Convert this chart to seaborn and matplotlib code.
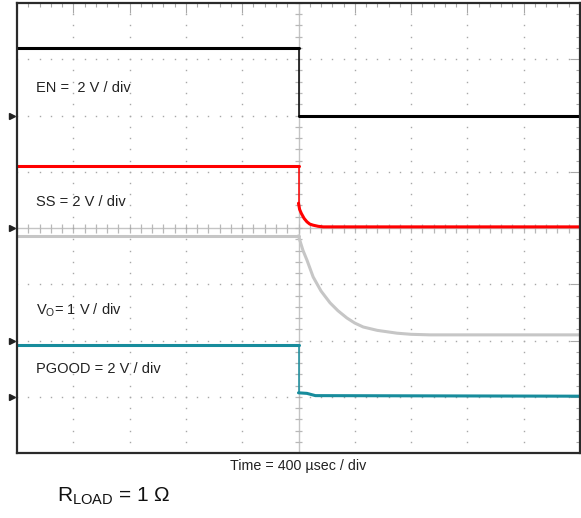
import numpy as np
import seaborn as sns
import matplotlib.pyplot as plt

# Scope capture in divisions (10 x 8 grid).
# Each trace: flat part before the edge, then the part after the edge.
en_pre_t = [0.0, 5.0]
en_pre_v = [7.2, 7.2]
en_post_t = [5.0, 10.0]
en_post_v = [6.0, 6.0]

ss_pre_t = [0.0, 5.0]
ss_pre_v = [5.10, 5.10]
ss_post_t = [5.0, 5.02, 5.05, 5.1, 5.15, 5.2, 5.26, 5.35, 5.44, 5.8, 10.0]
ss_post_v = [4.44, 4.33, 4.26, 4.17, 4.11, 4.07, 4.05, 4.03, 4.02, 4.02, 4.02]

vo_pre_t = [0.0, 5.0]
vo_pre_v = [3.86, 3.86]
vo_post_t = [5.0, 5.03, 5.08, 5.15, 5.26, 5.4, 5.56, 5.7, 5.86, 6.0, 6.15,
             6.4, 6.75, 7.0, 7.34, 10.0]
vo_post_v = [3.86, 3.76, 3.60, 3.43, 3.13, 2.88, 2.67, 2.53, 2.40, 2.31, 2.24,
             2.18, 2.13, 2.11, 2.10, 2.10]

pg_pre_t = [0.0, 5.0]
pg_pre_v = [1.92, 1.92]
pg_post_t = [5.0, 5.15, 5.3, 10.0]
pg_post_v = [1.07, 1.06, 1.02, 1.01]

# ground reference markers (EN, SS, Vo, PGOOD)
ground_levels = [6.0, 4.0, 2.0, 1.0]

labels = ["EN =  2 V / div", "SS = 2 V / div",
          r"V$_\mathregular{O}$= 1 V / div", "PGOOD = 2 V / div"]
label_y = [6.49, 4.47, 2.54, 1.49]

sns.set_style("white")
plt.rcParams['font.family'] = ['Liberation Sans', 'DejaVu Sans']

fig = plt.figure(figsize=(5.81, 5.18), dpi=100)
ax = fig.add_axes([17 / 581, 65 / 518, 563 / 581, 450 / 518])
ax.set_xlim(0, 10)
ax.set_ylim(0, 8)

grid_c = '#a8a8a8'
# dotted graticule
for gx in [1, 2, 3, 4, 6, 7, 8, 9]:
    yy = np.arange(0, 8.01, 0.2)
    ax.plot([gx] * len(yy), yy, ls='none', marker='s', ms=1.0, color=grid_c, mew=0)
for gy in [1, 2, 3, 5, 6, 7]:
    xx = np.arange(0, 10.01, 0.2)
    ax.plot(xx, [gy] * len(xx), ls='none', marker='s', ms=1.0, color=grid_c, mew=0)

# centre cross with ticks
ax.axhline(4, color='#c4c4c4', lw=1.0, zorder=1)
ax.axvline(5, color='#c4c4c4', lw=1.0, zorder=1)
ax.vlines(np.arange(0, 10.01, 0.2), 3.92, 4.08, color='#b8b8b8', lw=0.9, zorder=1)
ax.hlines(np.arange(0, 8.01, 0.2), 4.93, 5.07, color='#b8b8b8', lw=0.9, zorder=1)

# edge ticks
ax.set_xticks(np.arange(0, 10.01, 1))
ax.set_yticks(np.arange(0, 8.01, 1))
ax.set_xticks(np.arange(0, 10.01, 0.2), minor=True)
ax.set_yticks(np.arange(0, 8.01, 0.2), minor=True)
ax.tick_params(which='both', direction='in', top=True, right=True,
               labelbottom=False, labelleft=False, color=grid_c, width=0.8)
ax.tick_params(which='major', length=7)
ax.tick_params(which='minor', length=3)
for s in ax.spines.values():
    s.set_color('#2a2a2a')
    s.set_linewidth(1.6)

traces = [
    (en_pre_t, en_pre_v, en_post_t, en_post_v, '#000000'),
    (ss_pre_t, ss_pre_v, ss_post_t, ss_post_v, '#ff0000'),
    (vo_pre_t, vo_pre_v, vo_post_t, vo_post_v, '#c6c6c6'),
    (pg_pre_t, pg_pre_v, pg_post_t, pg_post_v, '#178c9c'),
]
for pre_t, pre_v, post_t, post_v, c in traces:
    sns.lineplot(x=pre_t, y=pre_v, color=c, lw=2.2, ax=ax, sort=False, estimator=None)
    sns.lineplot(x=[pre_t[-1], post_t[0]], y=[pre_v[-1], post_v[0]], color=c,
                 lw=1.1, ax=ax, sort=False, estimator=None)
    sns.lineplot(x=post_t, y=post_v, color=c, lw=2.2, ax=ax, sort=False, estimator=None)

for g in ground_levels:
    ax.plot(-0.09, g, marker='>', ms=4, color='#222222', clip_on=False)

for txt, y in zip(labels, label_y):
    ax.text(0.34, y, txt, fontsize=10.5, va='center', ha='left', color='#222222')

ax.set_xlabel('')
ax.set_ylabel('')
fig.text(298 / 581, 1 - 466 / 518, 'Time = 400 µsec / div', fontsize=10.3,
         ha='center', va='center', color='#222222')
fig.text(57 / 581, 1 - 496 / 518, r'R$_\mathregular{LOAD}$ = 1 Ω', fontsize=15,
         ha='left', va='center', color='#111111')

fig.savefig('out.png', dpi=100)
